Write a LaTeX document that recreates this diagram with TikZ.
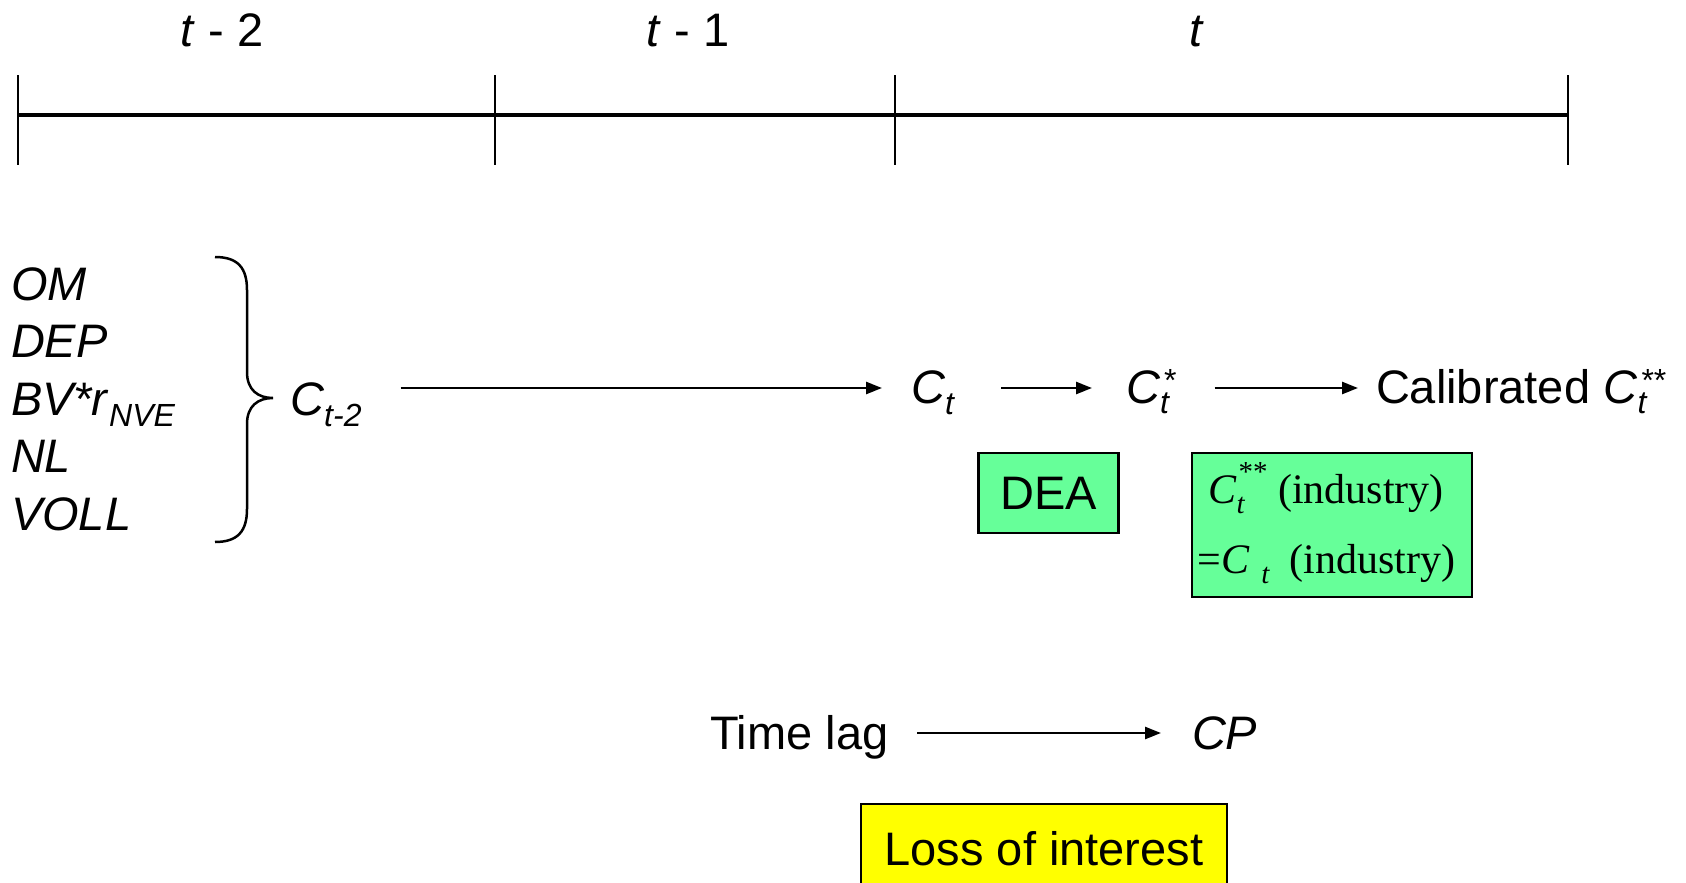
\documentclass[tikz,border=0pt]{standalone}
\usepackage{fontspec}
\setmainfont{Liberation Sans}
\newfontfamily\tnr{Liberation Serif}
\usetikzlibrary{arrows.meta,calc}
\definecolor{boxgreen}{RGB}{102,255,153}
\definecolor{boxyellow}{RGB}{255,255,0}
\newcommand{\fs}{\fontsize{47}{56}\selectfont}
\newcommand{\sm}{\fontsize{32}{32}\selectfont}
\newcommand{\tfs}{\tnr\fontsize{42}{50}\selectfont}
\newcommand{\tsm}{\tnr\fontsize{29}{29}\selectfont}
\newcommand{\lo}[1]{\raisebox{-11pt}{\sm\itshape #1}}
\newcommand{\stk}[2]{\rlap{\raisebox{-10pt}{\sm\itshape #1}}\hspace{4pt}\raisebox{12pt}{\sm #2}}
\newcommand{\tlo}[1]{\raisebox{-10pt}{\tsm\itshape #1}}
\newcommand{\tstk}[2]{\rlap{\raisebox{-10pt}{\tsm\itshape #1}}\hspace{2pt}\raisebox{22pt}{\tsm #2}}
\begin{document}
\begin{tikzpicture}[x=1pt,y=-1pt,
  txt/.style={inner sep=0pt, outer sep=0pt, font=\fs, anchor=base west},
  arr/.style={line width=2.5pt, -{Triangle[length=16pt,width=12pt]}},
  tickline/.style={line width=2pt},
  gbox/.style={draw=black, line width=2.5pt, fill=boxgreen, inner sep=0pt},
  ybox/.style={draw=black, line width=2.5pt, fill=boxyellow, inner sep=0pt, font=\fs}]
\useasboundingbox (0,0) rectangle (1686,883);
% timeline
\draw[line width=4pt] (18,115) -- (1568,115);
\foreach \xx in {18,495,895,1568} \draw[tickline] (\xx,75) -- (\xx,165);
\node[txt, anchor=base] (lab2) at (222,47) {\textit{t} - 2};
\node[txt, anchor=base] (lab1) at (688,47) {\textit{t} - 1};
\node[txt, anchor=base] (lab0) at (1197,47) {\textit{t}};
% list of inputs
\node[txt] (om) at (11,300) {\textit{OM}};
\node[txt] (dep) at (11,357.5) {\textit{DEP}};
\node[txt] (bv) at (11,415) {\textit{BV*r}\lo{NVE}};
\node[txt] (nl) at (11,472) {\textit{NL}};
\node[txt] (voll) at (11,530) {\textit{VOLL}};
% brace
\draw[line width=2.5pt] (215,257) .. controls (238,257) and (247,268) .. (247,290)
  -- (247,372) .. controls (247,390) and (258,398) .. (273,398)
  .. controls (258,398) and (247,406) .. (247,424)
  -- (247,509) .. controls (247,531) and (238,542) .. (215,542);
% main row
\node[txt] (ct2) at (290,415) {\textit{C}\lo{t-2}};
\node[txt] (ct) at (911,403) {\textit{C}\lo{t}};
\node[txt] (cts) at (1126,403) {\textit{C}\stk{t}{*}};
\node[txt] (cal) at (1376,403) {Calibrated \textit{C}\stk{t}{**}};
\draw[arr] ($(ct2.east |- ct.base)+(39pt,15pt)$) -- ($(ct.base west)+(-29pt,15pt)$);
\draw[arr] ($(ct.base east)+(47pt,15pt)$) -- ($(cts.base west)+(-34pt,15pt)$);
\draw[arr] ($(cts.base east)+(38pt,15pt)$) -- ($(cal.base west)+(-18pt,15pt)$);
% boxes
\node[gbox, font=\fs, minimum width=140pt, minimum height=80pt] (dea) at (1048.5,493) {DEA};
\node[gbox, minimum width=280pt, minimum height=144pt] (calbox) at (1332,525) {};
\node[inner sep=0pt, font=\tfs, anchor=base] (cl1) at (1326,503) {\textit{C}\tstk{t}{**} (industry)};
\node[inner sep=0pt, font=\tfs, anchor=base west] (cl2) at (1197,573) {=\hspace{1pt}\textit{C}\hspace{11pt}\tlo{t}\hspace{10pt} (industry)};
% bottom row
\node[txt] (lag) at (710,749) {Time lag};
\node[txt] (cp) at (1192,749) {\textit{CP}};
\draw[arr] ($(lag.base east)+(29pt,16pt)$) -- ($(cp.base west)+(-31pt,16pt)$);
\node[ybox, minimum width=366pt, minimum height=90pt] (loss) at (1044,849) {Loss of interest};
\end{tikzpicture}
\end{document}
